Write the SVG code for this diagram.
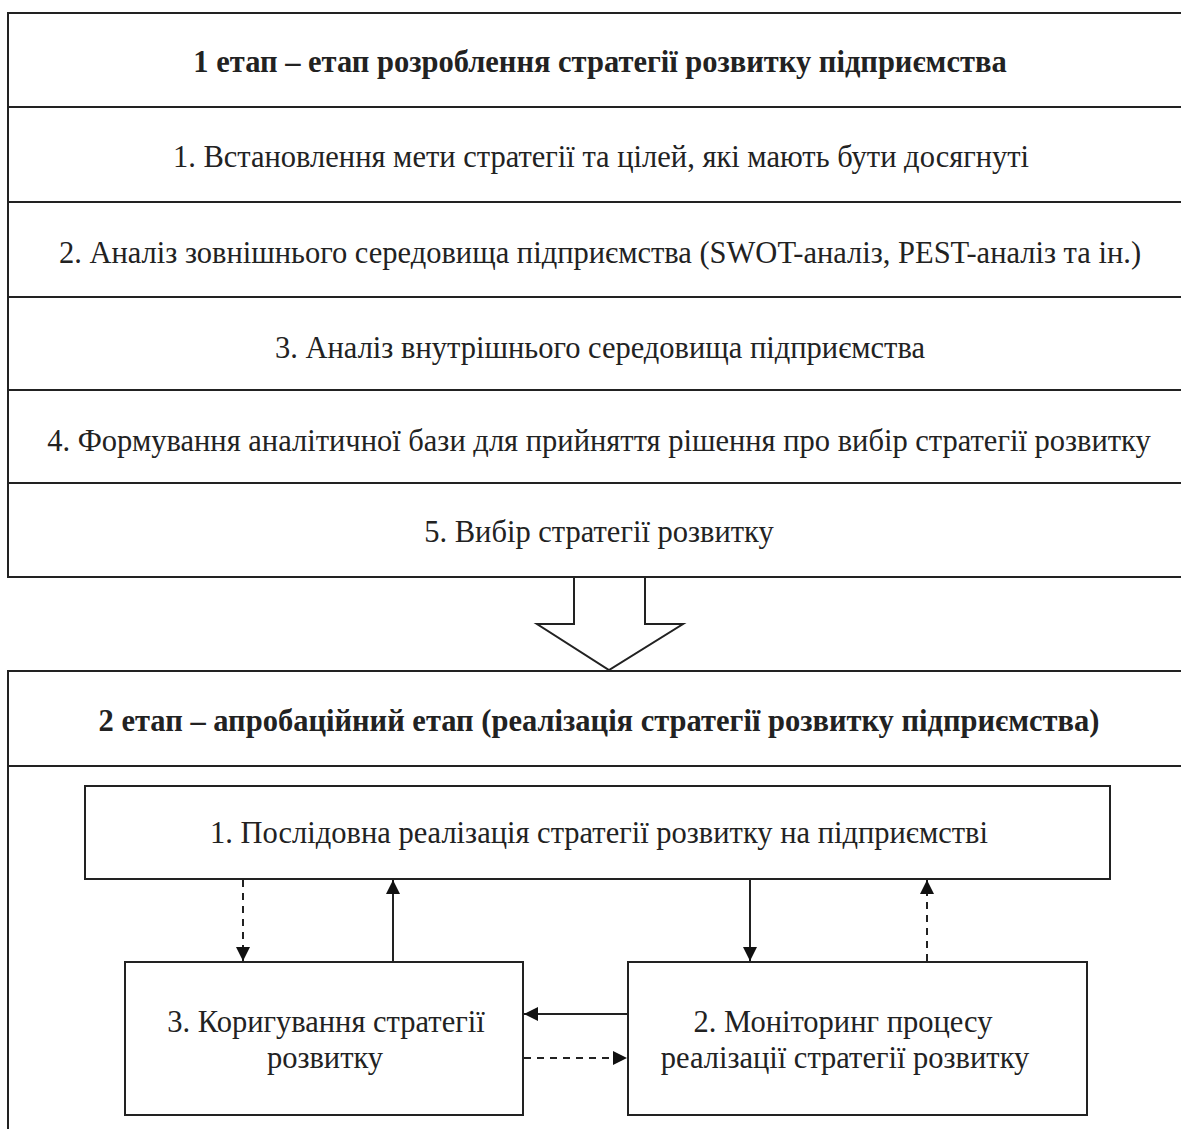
<svg xmlns="http://www.w3.org/2000/svg" width="1181" height="1129" viewBox="0 0 1181 1129">
<style>
.box{fill:#fff;stroke:#222;stroke-width:2}
.ln{stroke:#222;stroke-width:2;fill:none}
.dash{stroke:#222;stroke-width:2;fill:none;stroke-dasharray:7,6}
text{font-family:"Liberation Serif","Times New Roman",serif;font-size:30.5px;fill:#222;text-anchor:middle}
.b{font-weight:bold;font-size:30.5px}
</style>
<defs>
<marker id="ah" viewBox="0 0 10 10" refX="10" refY="5" markerWidth="14" markerHeight="14" markerUnits="userSpaceOnUse" orient="auto"><path d="M0,0 L10,5 L0,10 z" fill="#111"/></marker>
</defs>
<rect width="1181" height="1129" fill="#fff"/>
<g id="stage1">
<rect class="box" x="8" y="13" width="1190" height="564"/>
<line class="ln" x1="8" y1="107" x2="1190" y2="107"/>
<line class="ln" x1="8" y1="202" x2="1190" y2="202"/>
<line class="ln" x1="8" y1="297" x2="1190" y2="297"/>
<line class="ln" x1="8" y1="390" x2="1190" y2="390"/>
<line class="ln" x1="8" y1="483" x2="1190" y2="483"/>
<text class="b" x="600" y="72">1 етап – етап розроблення стратегії розвитку підприємства</text>
<text x="601" y="167">1. Встановлення мети стратегії та цілей, які мають бути досягнуті</text>
<text x="600" y="263">2. Аналіз зовнішнього середовища підприємства (SWOT-аналіз, PEST-аналіз та ін.)</text>
<text x="600" y="358">3. Аналіз внутрішнього середовища підприємства</text>
<text x="599" y="451">4. Формування аналітичної бази для прийняття рішення про вибір стратегії розвитку</text>
<text x="599" y="542">5. Вибір стратегії розвитку</text>
</g>
<g id="big-arrow">
<polygon class="box" points="574,577 645,577 645,624 683,624 609,670 537,624 574,624"/>
</g>
<g id="stage2">
<rect class="box" x="8" y="671" width="1190" height="480"/>
<line class="ln" x1="8" y1="766" x2="1190" y2="766"/>
<text class="b" x="599" y="731">2 етап – апробаційний етап (реалізація стратегії розвитку підприємства)</text>
</g>
<g id="n1">
<rect class="box" x="85" y="786" width="1025" height="93"/>
<text x="599" y="843">1. Послідовна реалізація стратегії розвитку на підприємстві</text>
</g>
<g id="n3">
<rect class="box" x="125" y="962" width="398" height="153"/>
<text x="326" y="1032">3. Коригування стратегії</text>
<text x="325" y="1068">розвитку</text>
</g>
<g id="n2">
<rect class="box" x="628" y="962" width="459" height="153"/>
<text x="843" y="1032">2. Моніторинг процесу</text>
<text x="845" y="1068">реалізації стратегії розвитку</text>
</g>
<g id="connectors">
<line class="dash" x1="243" y1="880" x2="243" y2="961" marker-end="url(#ah)"/>
<line class="ln" x1="393" y1="961" x2="393" y2="880" marker-end="url(#ah)"/>
<line class="ln" x1="750" y1="880" x2="750" y2="961" marker-end="url(#ah)"/>
<line class="dash" x1="927" y1="961" x2="927" y2="880" marker-end="url(#ah)"/>
<line class="ln" x1="628" y1="1014" x2="524" y2="1014" marker-end="url(#ah)"/>
<line class="dash" x1="524" y1="1058" x2="627" y2="1058" marker-end="url(#ah)"/>
</g>
</svg>
